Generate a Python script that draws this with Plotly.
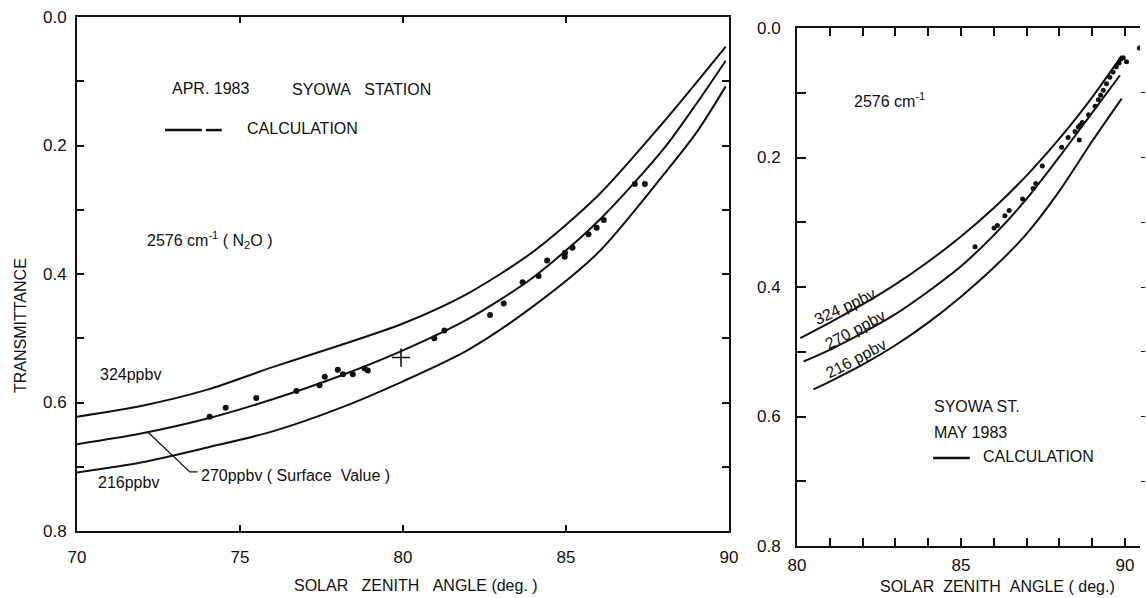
import plotly.graph_objects as go

# ---------------- Left panel (APR. 1983) ----------------
left_curve_x = [70, 72, 74, 76, 78, 80, 82, 84, 86, 88, 89, 89.9]
left_324 = [0.622, 0.605, 0.580, 0.545, 0.512, 0.477, 0.430, 0.365, 0.277, 0.163, 0.102, 0.046]
left_270 = [0.665, 0.648, 0.625, 0.595, 0.560, 0.519, 0.470, 0.405, 0.317, 0.205, 0.135, 0.068]
left_216 = [0.709, 0.693, 0.670, 0.645, 0.610, 0.567, 0.518, 0.450, 0.366, 0.245, 0.180, 0.108]

left_obs_x = [74.07, 74.56, 75.50, 76.73, 77.44, 77.60, 78.00, 78.16, 78.46, 78.82, 78.92,
              80.96, 81.27, 82.67, 83.09, 83.67, 84.16, 84.42, 84.96, 84.97, 85.20, 85.69,
              85.94, 86.16, 87.11, 87.42]
left_obs_y = [0.622, 0.608, 0.593, 0.582, 0.573, 0.560, 0.549, 0.556, 0.556, 0.547, 0.550,
              0.500, 0.488, 0.464, 0.446, 0.413, 0.403, 0.379, 0.373, 0.367, 0.359, 0.338,
              0.328, 0.316, 0.260, 0.260]
left_cross_x = [79.94]
left_cross_y = [0.530]

# ---------------- Right panel (MAY 1983) ----------------
right_324_x = [80.1, 81, 82, 83, 84, 85, 86, 87, 88, 89, 89.9]
right_324 = [0.479, 0.455, 0.427, 0.396, 0.361, 0.322, 0.278, 0.228, 0.171, 0.107, 0.043]
right_270_x = [80.2, 81, 82, 83, 84, 85, 86, 87, 88, 89, 89.85]
right_270 = [0.515, 0.497, 0.471, 0.442, 0.407, 0.368, 0.320, 0.264, 0.199, 0.131, 0.073]
right_216_x = [80.5, 81, 82, 83, 84, 85, 86, 87, 88, 89, 89.9]
right_216 = [0.558, 0.546, 0.520, 0.490, 0.455, 0.415, 0.370, 0.318, 0.252, 0.175, 0.109]

right_obs_x = [85.43, 86.01, 86.11, 86.34, 86.47, 86.88, 87.20, 87.28, 87.48, 88.07, 88.27,
               88.48, 88.58, 88.63, 88.61, 88.70, 88.89, 89.09, 89.19, 89.26, 89.34, 89.44,
               89.54, 89.64, 89.74, 89.82, 89.88, 89.95, 90.05, 90.44]
right_obs_y = [0.338, 0.309, 0.305, 0.290, 0.282, 0.264, 0.248, 0.240, 0.213, 0.184, 0.169,
               0.160, 0.153, 0.150, 0.173, 0.146, 0.134, 0.121, 0.111, 0.104, 0.096, 0.086,
               0.076, 0.068, 0.060, 0.054, 0.048, 0.046, 0.052, 0.031]

y_ticks = [0.0, 0.2, 0.4, 0.6, 0.8]
left_x_ticks = [70, 75, 80, 85, 90]
right_x_ticks = [80, 85, 90]

FONT = "Liberation Sans, Arial, sans-serif"
BLACK = "#111111"

fig = go.Figure()

line_style = dict(color=BLACK, width=2, shape="spline", smoothing=0.8)
for ys in (left_324, left_270, left_216):
    fig.add_trace(go.Scatter(x=left_curve_x, y=ys, mode="lines", line=line_style,
                             xaxis="x", yaxis="y", showlegend=False, hoverinfo="skip"))
fig.add_trace(go.Scatter(x=left_obs_x, y=left_obs_y, mode="markers",
                         marker=dict(color=BLACK, size=6), xaxis="x", yaxis="y", showlegend=False))
fig.add_trace(go.Scatter(x=left_cross_x, y=left_cross_y, mode="markers",
                         marker=dict(symbol="cross-thin", size=13, line=dict(color=BLACK, width=1.6)),
                         xaxis="x", yaxis="y", showlegend=False))

for xs, ys in ((right_324_x, right_324), (right_270_x, right_270), (right_216_x, right_216)):
    fig.add_trace(go.Scatter(x=xs, y=ys, mode="lines", line=line_style,
                             xaxis="x2", yaxis="y2", showlegend=False, hoverinfo="skip"))
fig.add_trace(go.Scatter(x=right_obs_x, y=right_obs_y, mode="markers",
                         marker=dict(color=BLACK, size=5), xaxis="x2", yaxis="y2", showlegend=False))
# invisible trace to show right-side tick dashes
fig.add_trace(go.Scatter(x=[80], y=[0.4], mode="markers", marker=dict(opacity=0),
                         xaxis="x2", yaxis="y3", showlegend=False, hoverinfo="skip"))

tickfont = dict(family=FONT, size=17, color=BLACK)
common_axis = dict(showgrid=False, zeroline=False, showline=True, linecolor=BLACK, linewidth=2,
                   tickcolor=BLACK, tickwidth=1.5, tickfont=tickfont, automargin=False)

fig.update_layout(
    width=1146, height=598,
    margin=dict(l=0, r=0, t=0, b=0, autoexpand=False),
    paper_bgcolor="white", plot_bgcolor="white",
    font=dict(family=FONT, size=16, color=BLACK),
    xaxis=dict(domain=[77/1146, 729/1146], range=[70, 90], anchor="y",
               tickvals=left_x_ticks, ticks="inside", ticklen=6, mirror="ticks",
               ticklabelstandoff=10, **common_axis),
    yaxis=dict(domain=[1-531/598, 1-17/598], range=[0.8, 0.0], anchor="x",
               tickvals=y_ticks, tickformat=".1f", ticks="inside", ticklen=7, mirror="ticks",
               minor=dict(dtick=0.1, ticks="inside", ticklen=7, tickcolor=BLACK, tickwidth=1.5),
               ticklabelstandoff=5, **common_axis),
    xaxis2=dict(domain=[797/1146, 1140/1146], range=[80, 90.46], anchor="y2",
                tickvals=right_x_ticks, ticks="inside", ticklen=8, mirror="ticks",
                minor=dict(dtick=1, ticks="inside", ticklen=8, tickcolor=BLACK, tickwidth=1.5),
                ticklabelstandoff=3, **common_axis),
    yaxis2=dict(domain=[1-546/598, 1-28/598], range=[0.8, 0.0], anchor="x2",
                tickvals=y_ticks, tickformat=".1f", ticks="inside", ticklen=9,
                minor=dict(dtick=0.1, ticks="inside", ticklen=9, tickcolor=BLACK, tickwidth=1.5),
                ticklabelstandoff=11, **common_axis),
    yaxis3=dict(domain=[1-546/598, 1-28/598], range=[0.8, 0.0], overlaying="y2", side="right",
                anchor="x2", showline=False, showgrid=False, zeroline=False, automargin=False,
                tickvals=[0.1, 0.2, 0.3, 0.4, 0.5, 0.6, 0.7], ticks="outside", ticklen=4,
                tickcolor=BLACK, tickwidth=1.2, showticklabels=False),
)

txt = dict(showarrow=False, font=dict(family=FONT, size=16, color=BLACK))
ann = []
# left panel texts
ann.append(dict(x=72.85, y=0.111, xref="x", yref="y", xanchor="left", text="APR. 1983", **txt))
ann.append(dict(x=76.52, y=0.113, xref="x", yref="y", xanchor="left",
                text="SYOWA\u00a0\u00a0\u00a0STATION", **txt))
ann.append(dict(x=75.15, y=0.173, xref="x", yref="y", xanchor="left", text="CALCULATION", **txt))
ann.append(dict(x=72.08, y=0.347, xref="x", yref="y", xanchor="left",
                text="2576 cm<sup>-1</sup> ( N<sub>2</sub>O )", **txt))
ann.append(dict(x=70.64, y=0.557, xref="x", yref="y", xanchor="left", text="324ppbv", **txt))
ann.append(dict(x=70.58, y=0.725, xref="x", yref="y", xanchor="left", text="216ppbv", **txt))
ann.append(dict(x=73.75, y=0.714, xref="x", yref="y", xanchor="left",
                text="270ppbv ( Surface\u00a0\u00a0Value )", **txt))
# right panel texts
ann.append(dict(x=81.68, y=0.111, xref="x2", yref="y2", xanchor="left",
                text="2576 cm<sup>-1</sup>", **txt))
ann.append(dict(x=84.12, y=0.584, xref="x2", yref="y2", xanchor="left", text="SYOWA ST.", **txt))
ann.append(dict(x=84.12, y=0.625, xref="x2", yref="y2", xanchor="left", text="MAY 1983", **txt))
ann.append(dict(x=85.61, y=0.662, xref="x2", yref="y2", xanchor="left", text="CALCULATION", **txt))
for xc, yc, label, ang in ((81.46, 0.430, "324 ppbv", -25), (81.77, 0.465, "270 ppbv", -28),
                           (81.80, 0.510, "216 ppbv", -28)):
    ann.append(dict(x=xc, y=yc, xref="x2", yref="y2", text=label, textangle=ang, **txt))
# axis titles
ann.append(dict(x=20/1146, y=1-326/598, xref="paper", yref="paper", text="TRANSMITTANCE",
                textangle=-90, xanchor="center", yanchor="middle", **txt))
ann.append(dict(x=416/1146, y=1-585/598, xref="paper", yref="paper",
                xanchor="center", yanchor="middle",
                text="SOLAR\u00a0\u00a0\u00a0ZENITH\u00a0\u00a0\u00a0ANGLE (deg. )", **txt))
ann.append(dict(x=997/1146, y=1-586/598, xref="paper", yref="paper",
                xanchor="center", yanchor="middle",
                text="SOLAR\u00a0\u00a0ZENITH\u00a0\u00a0ANGLE ( deg.)", **txt))
fig.update_layout(annotations=ann)

shp = []
lw = dict(color=BLACK, width=2.5)
shp.append(dict(type="line", xref="x", yref="y", x0=72.70, x1=73.83, y0=0.176, y1=0.176, line=lw))
shp.append(dict(type="line", xref="x", yref="y", x0=73.95, x1=74.44, y0=0.176, y1=0.176, line=lw))
shp.append(dict(type="line", xref="x2", yref="y2", x0=84.15, x1=85.27, y0=0.664, y1=0.664, line=lw))
shp.append(dict(type="path", xref="x", yref="y",
                path="M 72.17 0.646 L 73.46 0.708 L 73.70 0.708", line=dict(color=BLACK, width=1.3)))
fig.update_layout(shapes=shp)

fig.write_html("out.html", config={"displayModeBar": False},
               post_script="document.body.style.margin='0';document.body.style.overflow='hidden';")
